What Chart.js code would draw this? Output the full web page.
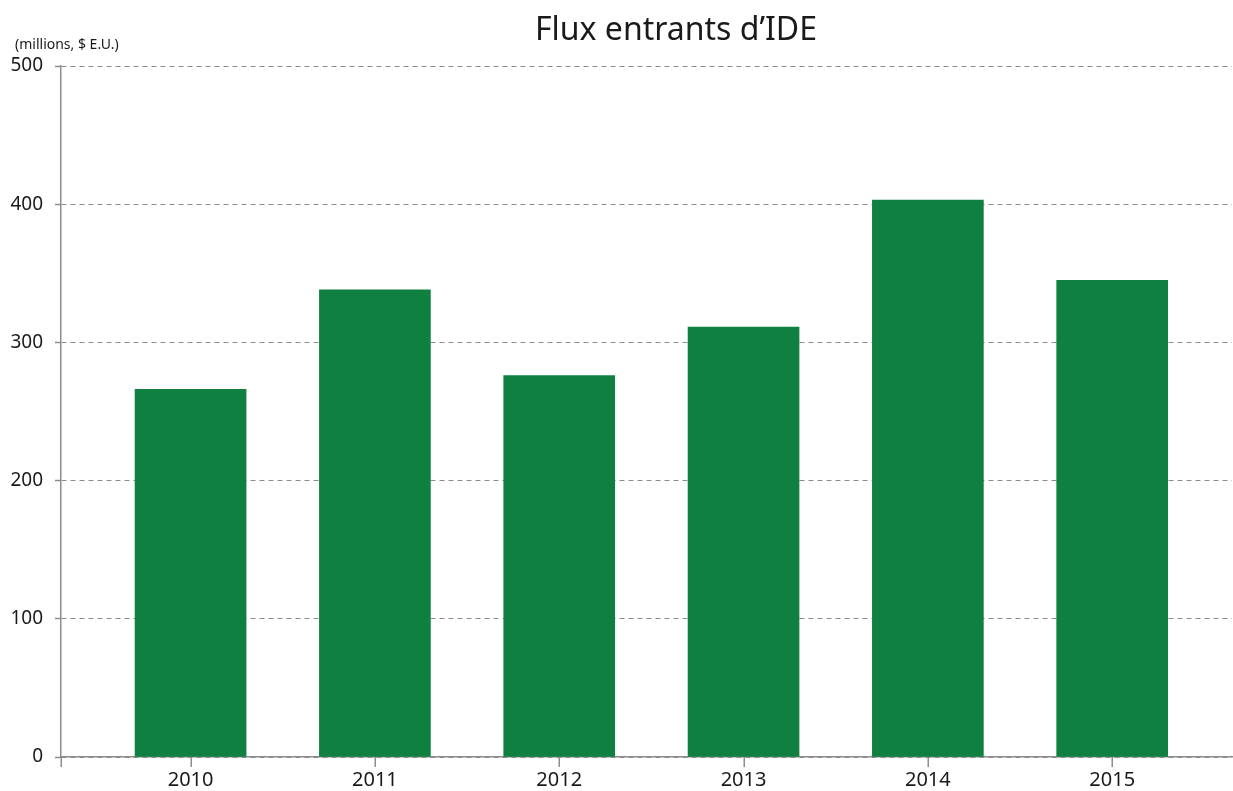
<!DOCTYPE html>
<html>
<head>
<meta charset="utf-8">
<script src="https://cdn.jsdelivr.net/npm/chart.js@4"></script>
<style>
    html, body { margin: 0; padding: 0; background: #fff; }
    #wrap { width: 1233px; height: 791px; position: relative; }
</style>
</head>
<body>
<div id="wrap"><canvas id="chart"></canvas></div>
<script>
// Data
const years = [2010, 2011, 2012, 2013, 2014, 2015];
const inflows = [266, 338, 276, 311, 403, 345];
const yTicks = [0, 100, 200, 300, 400, 500];

const titleText = "Flux entrants d\u2019IDE";
const unitText = "(millions, $ E.U.)";
const fontFamily = "'Noto Sans', 'Open Sans', sans-serif";
const xMin = 2009.297;
const xMax = 2015.65;

// Plugin: title, unit label and x tick marks
const labelsPlugin = {
    id: "labels",
    afterDraw: (chart) => {
        let ctx = chart.ctx;
        let xScale = chart.scales.x;
        let bottom = chart.chartArea.bottom;
        ctx.save();
        ctx.strokeStyle = "#8c8c8c";
        ctx.lineWidth = 1.5;
        [xMin].concat(years).forEach(v => {
            let px = Math.round(xScale.getPixelForValue(v)) + 0.25;
            ctx.beginPath();
            ctx.moveTo(px, bottom);
            ctx.lineTo(px, bottom + 10);
            ctx.stroke();
        });
        ctx.fillStyle = "#1a1a1a";
        ctx.textBaseline = "alphabetic";
        ctx.textAlign = "center";
        ctx.font = "32px " + fontFamily;
        ctx.fillText(titleText, 676, 40);
        ctx.textAlign = "left";
        ctx.font = "14px " + fontFamily;
        ctx.fillText(unitText, 15, 49);
        ctx.restore();
    }
};

new Chart(document.querySelector("#chart"), {
    type: "bar",
    data: {
        datasets: [{
            data: years.map((y, i) => ({x: y, y: inflows[i]})),
            backgroundColor: "#0f8040",
            barThickness: 111
        }]
    },
    options: {
        responsive: true,
        maintainAspectRatio: false,
        animation: false,
        layout: {padding: {top: 66, right: 1, left: 0, bottom: 0}},
        plugins: {legend: {display: false}, tooltip: {enabled: false}, title: {display: false}},
        scales: {
            x: {
                type: "linear",
                offset: false,
                min: xMin,
                max: xMax,
                afterBuildTicks: (s) => {
                    s.ticks = years.map(v => ({value: v}));
                },
                afterFit: (s) => { s.height = 34; },
                grid: {display: false, drawTicks: false},
                border: {display: true, color: "#8c8c8c", width: 1.5},
                ticks: {
                    color: "#1a1a1a",
                    font: {size: 20, family: fontFamily},
                    padding: 11,
                    maxRotation: 0,
                    autoSkip: false,
                    callback: (v) => String(v)
                }
            },
            y: {
                min: 0,
                max: 500,
                afterBuildTicks: (s) => { s.ticks = yTicks.map(v => ({value: v})); },
                afterFit: (s) => { s.width = 61; },
                grid: {color: "#8c8c8c", lineWidth: 1, tickLength: 6, tickColor: "#8c8c8c", tickWidth: 1.5},
                border: {color: "#8c8c8c", width: 1.5, dash: [5, 4]},
                ticks: {
                    color: "#1a1a1a",
                    font: {size: 19, family: fontFamily},
                    padding: 12
                }
            }
        }
    },
    plugins: [labelsPlugin]
});
</script>
</body>
</html>
